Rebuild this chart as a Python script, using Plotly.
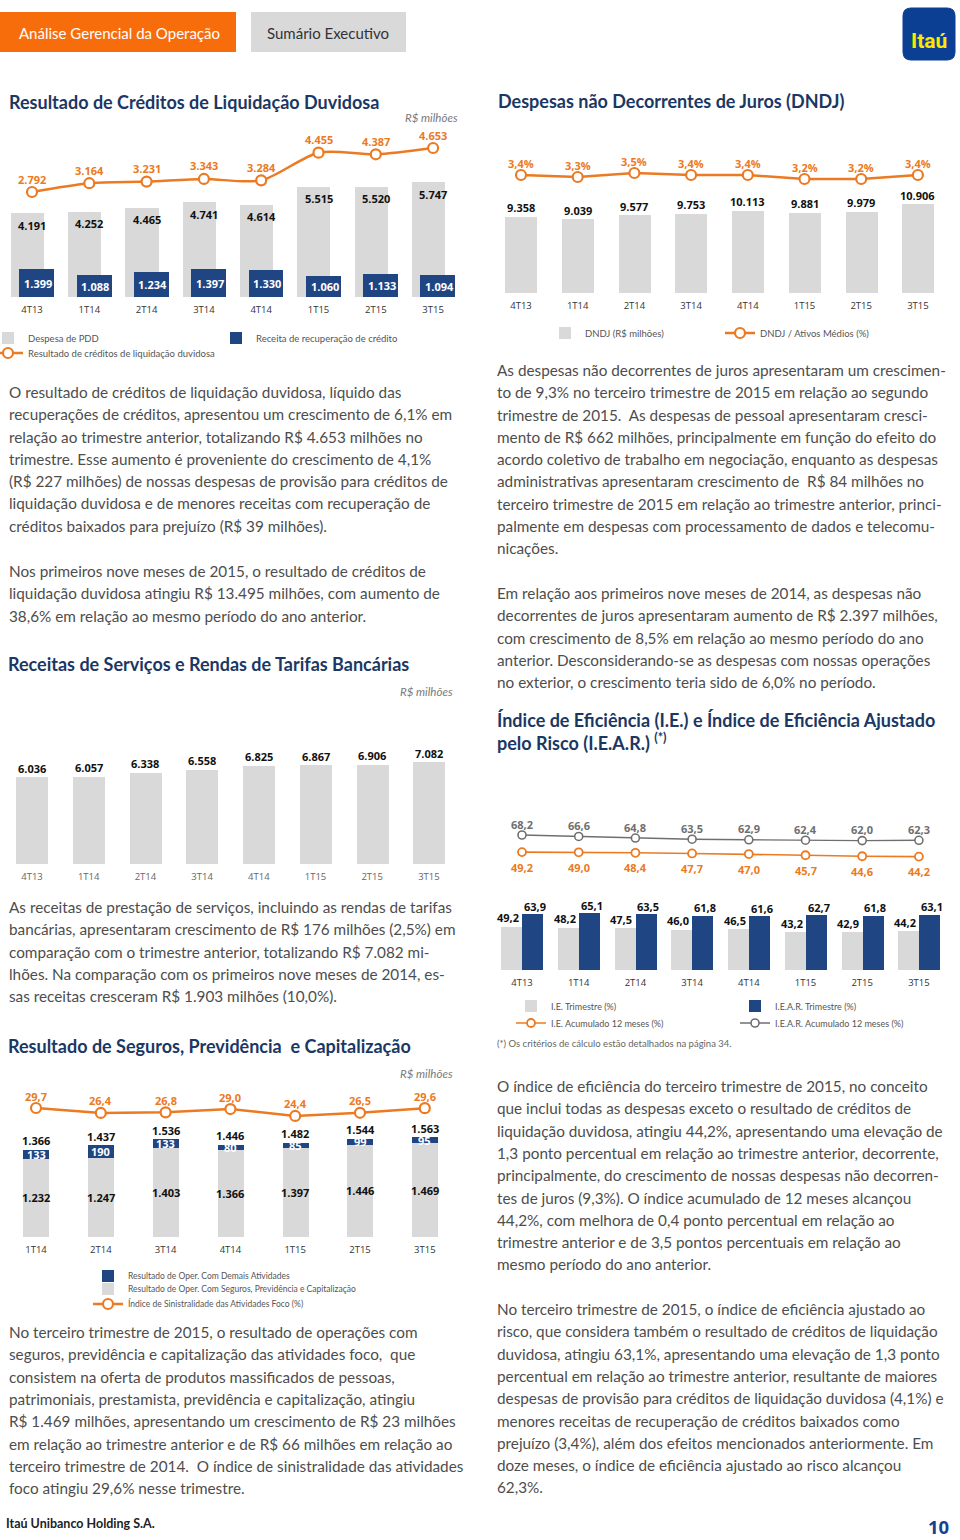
import plotly.graph_objects as go

W, H = 960, 1540
def fx(p): return p / W
def fy(p): return 1 - p / H

TEXT_FONT = "Lato, 'Open Sans', sans-serif"
NUM_FONT = "'Open Sans', 'Noto Sans', sans-serif"
ORANGE = "#EC7A22"
BLUE = "#1F4583"
GRAY_BAR = "#D9D9D9"
TITLE_BLUE = "#1B3763"
TEXT_COLOR = "#4D4D4D"
LINE_GRAY = "#6F6F6F"

# ---------------- data ----------------
q8 = ["4T13", "1T14", "2T14", "3T14", "4T14", "1T15", "2T15", "3T15"]
pdd_despesa = [4191, 4252, 4465, 4741, 4614, 5515, 5520, 5747]
pdd_recuperacao = [1399, 1088, 1234, 1397, 1330, 1060, 1133, 1094]
pdd_resultado = [2792, 3164, 3231, 3343, 3284, 4455, 4387, 4653]

dndj_valor = [9358, 9039, 9577, 9753, 10113, 9881, 9979, 10906]
dndj_ativos = [3.4, 3.3, 3.5, 3.4, 3.4, 3.2, 3.2, 3.4]

receitas = [6036, 6057, 6338, 6558, 6825, 6867, 6906, 7082]

ie_trim = [49.2, 48.2, 47.5, 46.0, 46.5, 43.2, 42.9, 44.2]
iear_trim = [63.9, 65.1, 63.5, 61.8, 61.6, 62.7, 61.8, 63.1]
ie_acum = [49.2, 49.0, 48.4, 47.7, 47.0, 45.7, 44.6, 44.2]
iear_acum = [68.2, 66.6, 64.8, 63.5, 62.9, 62.4, 62.0, 62.3]

q7 = ["1T14", "2T14", "3T14", "4T14", "1T15", "2T15", "3T15"]
seg_seguros = [1232, 1247, 1403, 1366, 1397, 1446, 1469]
seg_demais = [133, 190, 133, 80, 85, 99, 95]
seg_total = [1366, 1437, 1536, 1446, 1482, 1544, 1563]
seg_sinistralidade = [29.7, 26.4, 26.8, 29.0, 24.4, 26.5, 29.6]

# ---------------- texts ----------------
txt_pdd_1 = [
    "O resultado de créditos de liquidação duvidosa, líquido das",
    "recuperações de créditos, apresentou um crescimento de 6,1% em",
    "relação ao trimestre anterior, totalizando R$ 4.653 milhões no",
    "trimestre. Esse aumento é proveniente do crescimento de 4,1%",
    "(R$ 227 milhões) de nossas despesas de provisão para créditos de",
    "liquidação duvidosa e de menores receitas com recuperação de",
    "créditos baixados para prejuízo (R$ 39 milhões).",
]
txt_pdd_2 = [
    "Nos primeiros nove meses de 2015, o resultado de créditos de",
    "liquidação duvidosa atingiu R$ 13.495 milhões, com aumento de",
    "38,6% em relação ao mesmo período do ano anterior.",
]
txt_receitas = [
    "As receitas de prestação de serviços, incluindo as rendas de tarifas",
    "bancárias, apresentaram crescimento de R$ 176 milhões (2,5%) em",
    "comparação com o trimestre anterior, totalizando R$ 7.082 mi-",
    "lhões. Na comparação com os primeiros nove meses de 2014, es-",
    "sas receitas cresceram R$ 1.903 milhões (10,0%).",
]
txt_seguros = [
    "No terceiro trimestre de 2015, o resultado de operações com",
    "seguros, previdência e capitalização das atividades foco,  que",
    "consistem na oferta de produtos massificados de pessoas,",
    "patrimoniais, prestamista, previdência e capitalização, atingiu",
    "R$ 1.469 milhões, apresentando um crescimento de R$ 23 milhões",
    "em relação ao trimestre anterior e de R$ 66 milhões em relação ao",
    "terceiro trimestre de 2014.  O índice de sinistralidade das atividades",
    "foco atingiu 29,6% nesse trimestre.",
]
txt_dndj_1 = [
    "As despesas não decorrentes de juros apresentaram um crescimen-",
    "to de 9,3% no terceiro trimestre de 2015 em relação ao segundo",
    "trimestre de 2015.  As despesas de pessoal apresentaram cresci-",
    "mento de R$ 662 milhões, principalmente em função do efeito do",
    "acordo coletivo de trabalho em negociação, enquanto as despesas",
    "administrativas apresentaram crescimento de  R$ 84 milhões no",
    "terceiro trimestre de 2015 em relação ao trimestre anterior, princi-",
    "palmente em despesas com processamento de dados e telecomu-",
    "nicações.",
]
txt_dndj_2 = [
    "Em relação aos primeiros nove meses de 2014, as despesas não",
    "decorrentes de juros apresentaram aumento de R$ 2.397 milhões,",
    "com crescimento de 8,5% em relação ao mesmo período do ano",
    "anterior. Desconsiderando-se as despesas com nossas operações",
    "no exterior, o crescimento teria sido de 6,0% no período.",
]
txt_ie_1 = [
    "O índice de eficiência do terceiro trimestre de 2015, no conceito",
    "que inclui todas as despesas exceto o resultado de créditos de",
    "liquidação duvidosa, atingiu 44,2%, apresentando uma elevação de",
    "1,3 ponto percentual em relação ao trimestre anterior, decorrente,",
    "principalmente, do crescimento de nossas despesas não decorren-",
    "tes de juros (9,3%). O índice acumulado de 12 meses alcançou",
    "44,2%, com melhora de 0,4 ponto percentual em relação ao",
    "trimestre anterior e de 3,5 pontos percentuais em relação ao",
    "mesmo período do ano anterior.",
]
txt_ie_2 = [
    "No terceiro trimestre de 2015, o índice de eficiência ajustado ao",
    "risco, que considera também o resultado de créditos de liquidação",
    "duvidosa, atingiu 63,1%, apresentando uma elevação de 1,3 ponto",
    "percentual em relação ao trimestre anterior, resultante de maiores",
    "despesas de provisão para créditos de liquidação duvidosa (4,1%) e",
    "menores receitas de recuperação de créditos baixados como",
    "prejuízo (3,4%), além dos efeitos mencionados anteriormente. Em",
    "doze meses, o índice de eficiência ajustado ao risco alcançou",
    "62,3%.",
]


def fmt_int(v): return f"{v:,}".replace(",", ".")
def fmt_dec(v): return f"{v:.1f}".replace(".", ",")


annotations = []
def label(text, x, y, xref, yref, color="#111111", size=11, xshift=0, yshift=0,
          xanchor="center", bold=True, family=NUM_FONT):
    t = f"<b>{text}</b>" if bold else text
    annotations.append(dict(text=t, x=x, y=y, xref=xref, yref=yref, showarrow=False,
                            xshift=xshift, yshift=yshift, xanchor=xanchor, yanchor="middle",
                            font=dict(family=family, size=size, color=color)))

def ptext(text, x_px, y_px, size=15, color=TEXT_COLOR, family=TEXT_FONT, xanchor="left"):
    annotations.append(dict(text=text, x=fx(x_px), y=fy(y_px), xref="paper", yref="paper",
                            showarrow=False, xanchor=xanchor, yanchor="middle",
                            font=dict(family=family, size=size, color=color)))

def paragraph(lines, x_px, y0_px, step=22.3):
    for i, ln in enumerate(lines):
        ptext(ln, x_px, y0_px + i * step, size=15.3)


fig = go.Figure()

# ---------- Chart 1: PDD ----------
fig.add_trace(go.Bar(x=q8, y=pdd_despesa, xaxis="x", yaxis="y", marker=dict(color=GRAY_BAR, line_width=0),
                     offset=-0.365, width=0.58, name="Despesa de PDD", legend="legend"))
fig.add_trace(go.Bar(x=q8, y=pdd_recuperacao, xaxis="x", yaxis="y", marker=dict(color=BLUE, line_width=0),
                     offset=-0.215, width=0.61, name="Receita de recuperação de crédito", legend="legend2"))
fig.add_trace(go.Scatter(x=q8, y=pdd_resultado, xaxis="x", yaxis="y2", mode="lines+markers",
                         line=dict(color=ORANGE, width=2.5, shape="spline", smoothing=0.8),
                         marker=dict(symbol="circle", size=10, color="white", line=dict(color=ORANGE, width=2.2)),
                         name="Resultado de créditos de liquidação duvidosa", legend="legend3"))
for q, d, r, s in zip(q8, pdd_despesa, pdd_recuperacao, pdd_resultado):
    label(fmt_int(d), q, d, "x", "y", yshift=-12)
    label(fmt_int(r), q, r / 2, "x", "y", color="white", xshift=6)
    label(fmt_int(s), q, s, "x", "y2", color=ORANGE, yshift=13)

# ---------- Chart 2: DNDJ ----------
fig.add_trace(go.Bar(x=q8, y=dndj_valor, xaxis="x2", yaxis="y3", marker=dict(color=GRAY_BAR, line_width=0),
                     width=0.565, name="DNDJ (R$ milhões)", legend="legend4"))
fig.add_trace(go.Scatter(x=q8, y=dndj_ativos, xaxis="x2", yaxis="y4", mode="lines+markers",
                         line=dict(color=ORANGE, width=2.5),
                         marker=dict(symbol="circle", size=10, color="white", line=dict(color=ORANGE, width=2.2)),
                         name="DNDJ / Ativos Médios (%)", legend="legend5"))
for q, v, p in zip(q8, dndj_valor, dndj_ativos):
    label(fmt_int(v), q, v, "x2", "y3", yshift=9)
    label(fmt_dec(p) + "%", q, p, "x2", "y4", color=ORANGE, yshift=12)

# ---------- Chart 3: Receitas ----------
fig.add_trace(go.Bar(x=q8, y=receitas, xaxis="x3", yaxis="y5", marker=dict(color=GRAY_BAR, line_width=0),
                     width=0.565, showlegend=False, name="Receitas"))
for q, v in zip(q8, receitas):
    label(fmt_int(v), q, v, "x3", "y5", yshift=9)

# ---------- Chart 4: IE / IEAR ----------
fig.add_trace(go.Bar(x=q8, y=ie_trim, xaxis="x4", yaxis="y6", marker=dict(color=GRAY_BAR, line_width=0),
                     offset=-0.37, width=0.37, name="I.E. Trimestre (%)", legend="legend6"))
fig.add_trace(go.Bar(x=q8, y=iear_trim, xaxis="x4", yaxis="y6", marker=dict(color=BLUE, line_width=0),
                     offset=0.0, width=0.37, name="I.E.A.R. Trimestre (%)", legend="legend7"))
fig.add_trace(go.Scatter(x=q8, y=ie_acum, xaxis="x4", yaxis="y7", mode="lines+markers",
                         line=dict(color=ORANGE, width=1.6),
                         marker=dict(symbol="circle", size=8, color="white", line=dict(color=ORANGE, width=1.8)),
                         name="I.E. Acumulado 12 meses (%)", legend="legend8"))
fig.add_trace(go.Scatter(x=q8, y=iear_acum, xaxis="x4", yaxis="y7", mode="lines+markers",
                         line=dict(color=LINE_GRAY, width=1.4),
                         marker=dict(symbol="circle", size=8, color="white", line=dict(color=LINE_GRAY, width=1.6)),
                         name="I.E.A.R. Acumulado 12 meses (%)", legend="legend9"))
for q, a, b, c, d in zip(q8, ie_trim, iear_trim, ie_acum, iear_acum):
    label(fmt_dec(a), q, a, "x4", "y6", xanchor="right", xshift=-1, yshift=9)
    label(fmt_dec(b), q, b, "x4", "y6", xanchor="left", xshift=0, yshift=8)
    label(fmt_dec(c), q, c, "x4", "y7", color=ORANGE, yshift=-15)
    label(fmt_dec(d), q, d, "x4", "y7", color=LINE_GRAY, yshift=11)

# ---------- Chart 5: Seguros ----------
fig.add_trace(go.Bar(x=q7, y=seg_demais, base=seg_seguros, xaxis="x5", yaxis="y8",
                     marker=dict(color=BLUE, line_width=0), width=0.4,
                     name="Resultado de Oper. Com Demais Atividades", legend="legend10"))
fig.add_trace(go.Bar(x=q7, y=seg_seguros, xaxis="x5", yaxis="y8", marker=dict(color=GRAY_BAR, line_width=0),
                     width=0.4, name="Resultado de Oper. Com Seguros, Previdência e Capitalização",
                     legend="legend11"))
fig.add_trace(go.Scatter(x=q7, y=seg_sinistralidade, xaxis="x5", yaxis="y9", mode="lines+markers",
                         line=dict(color=ORANGE, width=2.5),
                         marker=dict(symbol="circle", size=10, color="white", line=dict(color=ORANGE, width=2.2)),
                         name="Índice de Sinistralidade das Atividades Foco (%)", legend="legend12"))
for q, s, d, t, p in zip(q7, seg_seguros, seg_demais, seg_total, seg_sinistralidade):
    label(fmt_int(s), q, s / 2, "x5", "y8")
    label(fmt_int(d), q, s + d / 2, "x5", "y8", color="white")
    label(fmt_int(t), q, t, "x5", "y8", yshift=9)
    label(fmt_dec(p), q, p, "x5", "y9", color=ORANGE, yshift=12)

# ---------------- axes ----------------
def xdom(c0, step, n):
    left = c0 - step / 2
    return [fx(left), fx(left + n * step)]

def xax(dom, n, anchor, color="#333333"):
    return dict(domain=dom, range=[-0.5, n - 0.5], type="category", anchor=anchor,
                showgrid=False, zeroline=False, showline=False, ticks="",
                tickfont=dict(family=NUM_FONT, size=9.5, color=color), fixedrange=True,
                ticklabelstandoff=5)

def yax(anchor, rng, dom=None, overlaying=None):
    d = dict(anchor=anchor, range=rng, visible=False, showgrid=False, zeroline=False, fixedrange=True)
    if dom is not None:
        d["domain"] = dom
    if overlaying is not None:
        d["overlaying"] = overlaying
    return d

def ydom(bottom_px, top_px):
    return [fy(bottom_px), fy(top_px)]

layout_axes = dict(
    xaxis=xax(xdom(32, 57.3, 8), 8, "y"),
    yaxis=yax("x", [0, 180 / 0.02], ydom(297, 117)),
    yaxis2=yax("x", [(258 - 297) / 0.02364, (258 - 117) / 0.02364], overlaying="y"),
    xaxis2=xax(xdom(521, 56.7, 8), 8, "y3"),
    yaxis3=yax("x2", [0, 173 / 0.00814], ydom(293, 120)),
    yaxis4=yax("x2", [3.4 + (175 - 293) / 20, 3.4 + (175 - 120) / 20], overlaying="y3"),
    xaxis3=xax(xdom(32, 56.7, 8), 8, "y5", color="#666666"),
    yaxis5=yax("x3", [0, 164 / 0.0144], ydom(864, 700)),
    xaxis4=xax(xdom(522, 56.7, 8), 8, "y6"),
    yaxis6=yax("x4", [0, 180 / 0.875], ydom(970, 790)),
    yaxis7=yax("x4", [68.2 + (835 - 970) / 0.9, 68.2 + (835 - 790) / 0.9], overlaying="y6"),
    xaxis5=xax(xdom(36, 64.8, 7), 7, "y8"),
    yaxis8=yax("x5", [0, 167 / 0.0637], ydom(1237, 1070)),
    yaxis9=yax("x5", [29.7 + (1108 - 1237) / 1.5, 29.7 + (1108 - 1070) / 1.5], overlaying="y8"),
)

# ---------------- legends ----------------
legend_pos = {
    "legend": (30, 338, 9.5), "legend2": (258, 338, 9.5), "legend3": (30, 353, 9.5),
    "legend4": (587, 333, 9.5), "legend5": (762, 333, 9.5),
    "legend6": (553, 1006, 9), "legend7": (777, 1006, 9),
    "legend8": (553, 1023, 9), "legend9": (777, 1023, 9),
    "legend10": (130, 1276, 8.5), "legend11": (130, 1289, 8.5), "legend12": (130, 1304, 8.5),
}
legends = {}
for key, (tx, ty, sz) in legend_pos.items():
    legends[key] = dict(x=fx(tx - 42), y=fy(ty), xanchor="left", yanchor="middle",
                        bgcolor="rgba(0,0,0,0)", borderwidth=0, itemwidth=30,
                        font=dict(family=TEXT_FONT, size=sz, color="#555555"))

# ---------------- page texts ----------------
def title(text, x_px, y_px, size=18):
    ptext(f"<b>{text}</b>", x_px, y_px, size=size, color=TITLE_BLUE)

title("Resultado de Créditos de Liquidação Duvidosa", 7, 102)
title("Despesas não Decorrentes de Juros (DNDJ)", 496, 101)
title("Receitas de Serviços e Rendas de Tarifas Bancárias", 6, 664)
title("Índice de Eficiência (I.E.) e Índice de Eficiência Ajustado", 495, 720)
title("pelo Risco (I.E.A.R.) <sup>(*)</sup>", 495, 742)
title("Resultado de Seguros, Previdência  e Capitalização", 6, 1046)

for (xx, yy) in [(460, 118), (455, 691), (455, 1073)]:
    ptext("<i>R$ milhões</i>", xx, yy, size=11.5, color="#7A7A7A", xanchor="right")

ptext("(*) Os critérios de cálculo estão detalhados na página 34.", 495, 1043, size=9.5, color="#666666")

paragraph(txt_pdd_1, 7, 392)
paragraph(txt_pdd_2, 7, 571)
paragraph(txt_receitas, 7, 907)
paragraph(txt_seguros, 7, 1332)
paragraph(txt_dndj_1, 495, 370)
paragraph(txt_dndj_2, 495, 593)
paragraph(txt_ie_1, 495, 1086)
paragraph(txt_ie_2, 495, 1309)

# header / footer
shapes = [
    dict(type="rect", xref="paper", yref="paper", x0=fx(0), x1=fx(236), y0=fy(52), y1=fy(12),
         fillcolor="#F76D0C", line_width=0, layer="below"),
    dict(type="rect", xref="paper", yref="paper", x0=fx(251), x1=fx(406), y0=fy(52), y1=fy(12),
         fillcolor="#D9D9D9", line_width=0, layer="below"),
]
lx0, lx1, ly0, ly1, r = 903, 955, 8, 60, 8
logo_path = (f"M {fx(lx0 + r)} {fy(ly0)} L {fx(lx1 - r)} {fy(ly0)} Q {fx(lx1)} {fy(ly0)} {fx(lx1)} {fy(ly0 + r)} "
             f"L {fx(lx1)} {fy(ly1 - r)} Q {fx(lx1)} {fy(ly1)} {fx(lx1 - r)} {fy(ly1)} "
             f"L {fx(lx0 + r)} {fy(ly1)} Q {fx(lx0)} {fy(ly1)} {fx(lx0)} {fy(ly1 - r)} "
             f"L {fx(lx0)} {fy(ly0 + r)} Q {fx(lx0)} {fy(ly0)} {fx(lx0 + r)} {fy(ly0)} Z")
shapes.append(dict(type="path", xref="paper", yref="paper", path=logo_path,
                   fillcolor="#0B3F94", line=dict(color="#0B3F94", width=1)))

ptext("Análise Gerencial da Operação", 119, 33, size=15, color="white", xanchor="center")
ptext("Sumário Executivo", 328, 33, size=15, color="#333333", xanchor="center")
ptext("<b>Itaú</b>", 929, 41, size=21, color="#FFE600", family="'Liberation Sans Narrow', Roboto, sans-serif",
      xanchor="center")
ptext("<b>Itaú Unibanco Holding S.A.</b>", 4, 1523, size=12.5, color="#222222")
ptext("<b>10</b>", 951, 1526, size=18.5, color="#1B3F8B", family=NUM_FONT, xanchor="right")

fig.update_layout(
    width=W, height=H, margin=dict(l=0, r=0, t=0, b=0, pad=0, autoexpand=False),
    paper_bgcolor="white", plot_bgcolor="rgba(0,0,0,0)",
    template="none", barmode="overlay", bargap=0,
    showlegend=True,
    annotations=annotations, shapes=shapes,
    hovermode=False,
    **layout_axes, **legends,
)

fig.write_html("out.html")
